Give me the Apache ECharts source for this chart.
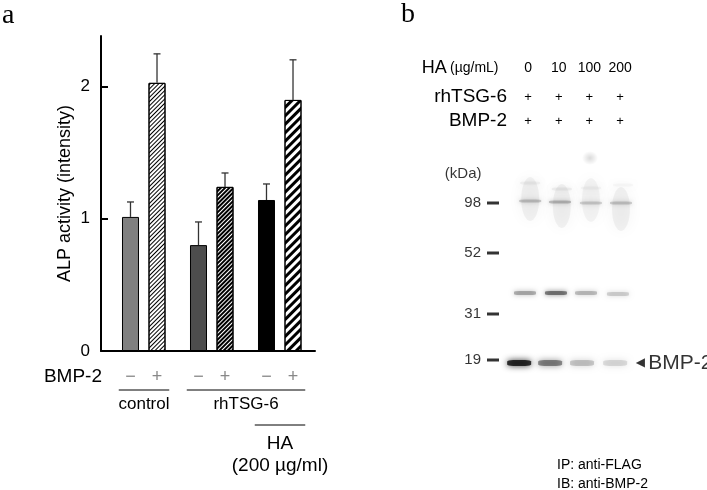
<!DOCTYPE html>
<html><head><meta charset="utf-8">
<script src="https://cdn.jsdelivr.net/npm/echarts@6/dist/echarts.min.js"></script>
<style>html,body{margin:0;padding:0;background:#fff}#c{width:707px;height:490px}</style>
</head><body><div id="c"></div>
<script>
// ---------- Panel a: ALP activity ----------
const groups = ['control', 'rhTSG-6', 'rhTSG-6 + HA'];
const bmpMinus = [1.013, 0.80, 1.141];
const bmpPlus = [2.026, 1.24, 1.897];
const errMinus = [0.113, 0.175, 0.121];
const errPlus = [0.219, 0.105, 0.303];
const signLabels = ['\u2212', '+'];
const yTicks = [0, 1, 2];
const bracketFrom = [0, 1, 2];
const bracketTo = [0, 2, 2];
const bracketLevel = [0, 0, 1];
const bracketText = ['control', 'rhTSG-6', 'HA\n(200 \u00b5g/ml)'];

// ---------- Panel b: blot ----------
const laneHA = ['0', '10', '100', '200'];
const rowTSG6 = ['+', '+', '+', '+'];
const rowBMP2 = ['+', '+', '+', '+'];
const markerKDa = [98, 52, 31, 19];
const markerMigration = [6.3, 11.3, 17.4, 22.0];
const kDaHeaderMigration = 3.4;
// [lane position, migration, intensity]
const smear98 = [[0.07, 5.9, 0.06], [1.1, 6.6, 0.06], [2.05, 6.0, 0.05], [3.03, 6.9, 0.06]];
const blob = [[2.02, 1.8, 0.18]];
const band98Upper = [[0.07, 4.3, 0.05], [1.1, 4.9, 0.06], [2.05, 4.8, 0.04], [3.1, 4.5, 0.03]];
const band98 = [[0.07, 6.1, 0.22], [1.04, 6.2, 0.26], [2.05, 6.3, 0.18], [3.03, 6.3, 0.2]];
const band36 = [[-0.1, 15.3, 0.32], [0.91, 15.3, 0.55], [1.89, 15.3, 0.26], [2.93, 15.4, 0.18]];
const band19 = [[-0.29, 22.3, 0.95], [0.72, 22.3, 0.5], [1.76, 22.3, 0.22], [2.84, 22.3, 0.14]];

// ---------- styles ----------
const FONT = 'Liberation Sans, Arial, sans-serif';
const BAR_W = 17, BAR_GAP = 0.56;
const PAIR_OFFSET = BAR_W * (1 + BAR_GAP) / 2;
const LANE_MIN = -0.947, LANE_MAX = 3.5;
const minusFill = ['#808080', '#4d4d4d', '#000000'];
const plusDecal = [
  {color: '#000', dashArrayX: [1, 0], dashArrayY: [1, 1.2], rotation: -Math.PI / 4, symbolSize: 1},
  {color: '#000', dashArrayX: [1, 0], dashArrayY: [1.6, 0.9], rotation: -Math.PI / 4, symbolSize: 1},
  {color: '#000', dashArrayX: [1, 0], dashArrayY: [2.4, 2.2], rotation: -Math.PI / 4, symbolSize: 1}
];

function errorSeries(vals, errs, side) {
  return {
    type: 'custom', xAxisIndex: 0, yAxisIndex: 0, z: 5, clip: false, silent: true,
    data: vals.map((v, i) => [i, v, errs[i]]),
    renderItem(params, api) {
      const c = api.coord([api.value(0), api.value(1)]);
      const t = api.coord([api.value(0), api.value(1) + api.value(2)]);
      const x = c[0] + side * PAIR_OFFSET;
      const st = {stroke: '#333', lineWidth: 1.3};
      return {type: 'group', children: [
        {type: 'line', shape: {x1: x, y1: c[1], x2: x, y2: t[1]}, style: st},
        {type: 'line', shape: {x1: x - 3.5, y1: t[1], x2: x + 3.5, y2: t[1]}, style: st}
      ]};
    }
  };
}

function bandSeries(data, size, blur, symbol) {
  return {
    type: 'scatter', xAxisIndex: 2, yAxisIndex: 2, clip: false, silent: true,
    symbol: symbol, symbolSize: size, data: data,
    itemStyle: {
      color: p => 'rgba(0,0,0,' + p.value[2] + ')',
      shadowBlur: blur, shadowColor: 'rgba(0,0,0,1)'
    }
  };
}

function softSpotSeries(data, size) {
  return {
    type: 'scatter', xAxisIndex: 2, yAxisIndex: 2, clip: false, silent: true,
    symbol: 'circle', symbolSize: size,
    data: data.map(d => ({value: d, itemStyle: {color: {
      type: 'radial', x: 0.5, y: 0.5, r: 0.5,
      colorStops: [{offset: 0, color: 'rgba(0,0,0,' + d[2] + ')'}, {offset: 1, color: 'rgba(0,0,0,0)'}]
    }}}))
  };
}

function textOnlySeries(data, label) {
  return {
    type: 'scatter', xAxisIndex: 2, yAxisIndex: 2, clip: false, silent: true, z: 10,
    data: data, symbol: 'rect', symbolSize: 1,
    itemStyle: {color: 'rgba(255,255,255,0)'},
    label: Object.assign({show: true, color: '#000'}, label)
  };
}

const topRowAxis = (offset, labels, name, nameGap, nameStyle, fontSize) => ({
  gridIndex: 2, type: 'value', min: LANE_MIN, max: LANE_MAX, position: 'top', offset: offset,
  axisLine: {show: false}, axisTick: {show: false}, splitLine: {show: false},
  axisLabel: labels ? {customValues: [0, 1, 2, 3], formatter: v => labels[Math.round(v)], verticalAlign: 'middle', margin: 0, fontSize: fontSize, color: '#000'} : {show: false},
  name: name, nameLocation: 'start', nameGap: nameGap, nameMoveOverlap: false, nameTextStyle: nameStyle
});

const chart = echarts.init(document.getElementById('c'), null, {renderer: 'canvas'});
chart.setOption({
  animation: false,
  backgroundColor: '#fff',
  textStyle: {fontFamily: FONT},
  title: [
    {text: 'a', left: 2, top: 2, padding: 0, textStyle: {fontFamily: 'Liberation Serif', fontSize: 28, fontWeight: 'normal', color: '#000'}},
    {text: 'b', left: 401, top: 1, padding: 0, textStyle: {fontFamily: 'Liberation Serif', fontSize: 28, fontWeight: 'normal', color: '#000'}}
  ],
  grid: [
    {left: 109.75, top: 36, width: 204, height: 315},
    {left: 101, top: 36, width: 214, height: 315},
    {left: 499, top: 140, width: 136.4, height: 260}
  ],
  xAxis: [
    {gridIndex: 0, type: 'category', data: groups, show: false},
    {gridIndex: 1, type: 'value', min: 0, max: 1,
     axisLine: {show: true, lineStyle: {color: '#000', width: 2}},
     axisTick: {show: false}, axisLabel: {show: false}, splitLine: {show: false},
     name: 'BMP-2', nameLocation: 'start', nameGap: -1, nameMoveOverlap: false,
     nameTextStyle: {fontSize: 19, color: '#000', verticalAlign: 'top', padding: [16, 0, 0, 0]}},
    topRowAxis(72, laneHA, '', 0, {}, 14),
    topRowAxis(43, rowTSG6, 'rhTSG-6', -8, {fontSize: 19, color: '#000'}, 13),
    topRowAxis(19, rowBMP2, 'BMP-2', -8, {fontSize: 19, color: '#000'}, 13),
    topRowAxis(72, null, '{a|HA} {b|(\u00b5g/mL)}', 0.5,
      {rich: {a: {fontSize: 18, color: '#000'}, b: {fontSize: 14, color: '#000'}}}, 14)
  ],
  yAxis: [
    {gridIndex: 0, type: 'value', min: 0, max: 2.38, offset: 8.75,
     axisLine: {show: true, lineStyle: {color: '#000', width: 2}},
     axisTick: {show: true, inside: true, length: 7, customValues: yTicks, lineStyle: {color: '#000', width: 2}},
     axisLabel: {customValues: yTicks, fontSize: 17, color: '#000', margin: 11},
     splitLine: {show: false},
     name: 'ALP activity (intensity)', nameLocation: 'middle', nameGap: 27, nameMoveOverlap: false,
     nameTextStyle: {fontSize: 18, color: '#000'}},
    {gridIndex: 1, type: 'value', min: 0, max: 1, show: false},
    {gridIndex: 2, type: 'value', min: 0, max: 26, inverse: true, show: false}
  ],
  series: [
    {type: 'bar', xAxisIndex: 0, yAxisIndex: 0, barWidth: BAR_W, barGap: (BAR_GAP * 100) + '%',
     data: bmpMinus.map((v, i) => ({value: v, itemStyle: {color: minusFill[i]}})),
     itemStyle: {borderColor: '#000', borderWidth: 1},
     label: {show: true, position: 'bottom', distance: 17, formatter: signLabels[0], color: '#888', fontSize: 18}},
    {type: 'bar', xAxisIndex: 0, yAxisIndex: 0, barWidth: BAR_W, barGap: (BAR_GAP * 100) + '%',
     data: bmpPlus.map((v, i) => ({value: v, itemStyle: {color: '#fff', decal: plusDecal[i]}})),
     itemStyle: {borderColor: '#000', borderWidth: 1},
     label: {show: true, position: 'bottom', distance: 17, formatter: signLabels[1], color: '#888', fontSize: 18}},
    errorSeries(bmpMinus, errMinus, -1),
    errorSeries(bmpPlus, errPlus, 1),
    {type: 'custom', xAxisIndex: 0, yAxisIndex: 0, clip: false, silent: true, z: 6,
     data: bracketFrom.map((f, i) => [f, bracketTo[i], bracketLevel[i]]),
     renderItem(params, api) {
       const a = api.coord([api.value(0), 0]);
       const b = api.coord([api.value(1), 0]);
       const lvl = api.value(2);
       const xL = a[0] - 25, xR = b[0] + 25.5;
       const ly = a[1] + 39 + lvl * 35;
       return {type: 'group', children: [
         {type: 'line', shape: {x1: xL, y1: ly, x2: xR, y2: ly}, style: {stroke: '#000', lineWidth: 1}},
         {type: 'text', style: {text: bracketText[params.dataIndex], x: (xL + xR) / 2, y: ly + (lvl ? 8 : 6),
           align: 'center', verticalAlign: 'top', fontSize: lvl ? 19 : 17, lineHeight: lvl ? 22 : 17,
           fontFamily: FONT, fill: '#000'}}
       ]};
     }},
    // molecular weight markers (dash + kDa label)
    {type: 'scatter', xAxisIndex: 2, yAxisIndex: 2, clip: false, silent: true,
     data: markerMigration.map(m => [LANE_MIN, m]),
     symbol: 'rect', symbolSize: [12, 3], symbolOffset: [-6, 0],
     itemStyle: {color: '#000'},
     label: {show: true, position: 'left', distance: 6, color: '#000', fontSize: 15,
             formatter: p => String(markerKDa[p.dataIndex])}},
    textOnlySeries([[LANE_MIN, kDaHeaderMigration]], {position: 'left', distance: 17, fontSize: 15, formatter: '(kDa)'}),
    bandSeries(smear98, [18, 44], 16, 'circle'),
    softSpotSeries(blob, [16, 14]),
    bandSeries(band98Upper, [20, 3], 4, 'roundRect'),
    bandSeries(band98, [22, 3], 4, 'roundRect'),
    bandSeries(band36, [22, 4], 5, 'roundRect'),
    bandSeries(band19, [24, 6], 6, 'roundRect'),
    // arrow label for the BMP-2 band (last lane)
    textOnlySeries(band19.slice(-1), {position: 'right', distance: 20,
      formatter: '{a|\u25C0} {b|BMP-2}',
      rich: {a: {fontSize: 12, fontFamily: 'DejaVu Sans', color: '#000'},
             b: {fontSize: 21, fontFamily: FONT, color: '#000'}}})
  ],
  graphic: [
    {type: 'text', left: 557, top: 458, style: {text: 'IP: anti-FLAG', fontSize: 14, fontFamily: FONT, fill: '#000'}},
    {type: 'text', left: 557, top: 477, style: {text: 'IB: anti-BMP-2', fontSize: 14, fontFamily: FONT, fill: '#000'}}
  ]
});
</script></body></html>
